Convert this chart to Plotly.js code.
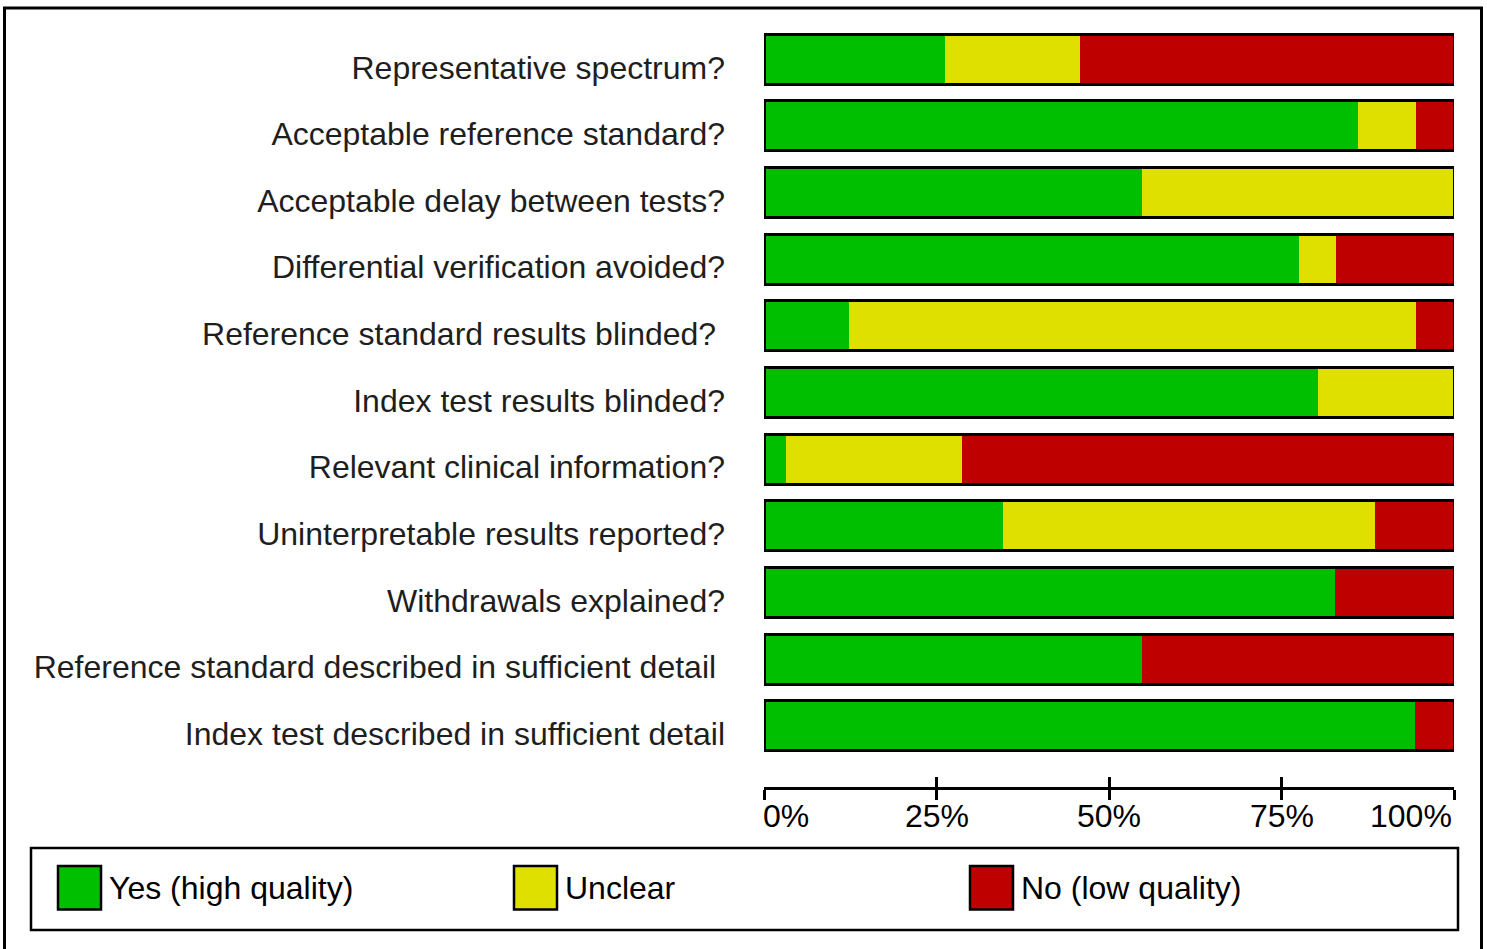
<!DOCTYPE html>
<html>
<head>
<meta charset="utf-8">
<script src="https://cdn.plot.ly/plotly-3.0.1.min.js"></script>
<style>
  html, body { margin: 0; padding: 0; background: #fff; }
  #chart { width: 1487px; height: 949px; }
</style>
</head>
<body>
<div id="chart"></div>
<script>
// ---- data (percent of studies) ----
const categories = [
  "Representative spectrum?",
  "Acceptable reference standard?",
  "Acceptable delay between tests?",
  "Differential verification avoided?",
  "Reference standard results blinded?\u00a0",
  "Index test results blinded?",
  "Relevant clinical information?",
  "Uninterpretable results reported?",
  "Withdrawals explained?",
  "Reference standard described in sufficient detail\u00a0",
  "Index test described in sufficient detail"
];
const yesPct     = [26.2, 86.1, 54.8, 77.5, 12.3, 80.3,  3.2, 34.6, 82.8, 54.8, 94.4];
const unclearPct = [19.6,  8.4, 45.2,  5.4, 82.2, 19.7, 25.5, 54.0,  0.0,  0.0,  0.0];
const noPct      = [54.2,  5.5,  0.0, 17.1,  5.5,  0.0, 71.3, 11.4, 17.2, 45.2,  5.6];
const seriesNames = ["Yes (high quality)", "Unclear", "No (low quality)"];
const seriesColors = ["#00bf00", "#e0e000", "#bf0000"];
const tickValues = [0, 25, 50, 75, 100];
const tickLabels = ["0%", "25%", "50%", "75%", "100%"];
const fullBar = categories.map(() => 100);

// ---- geometry helpers ----
const W = 1487, H = 949;
const M = { l: 764, r: 33, t: 26, b: 162 };
const PW = W - M.l - M.r, PH = H - M.t - M.b;
const px = p => (p - M.l) / PW;          // page x pixel -> paper x
const py = p => (H - M.b - p) / PH;      // page y pixel -> paper y

const FONT = "Liberation Sans, Arial, Helvetica, sans-serif";

const seriesValues = [yesPct, unclearPct, noPct];
const traces = seriesValues.map((vals, i) => ({
  type: "bar",
  orientation: "h",
  name: seriesNames[i],
  x: vals,
  y: categories,
  xaxis: "x",
  yaxis: "y",
  marker: { color: seriesColors[i], line: { width: 0 } },
  hoverinfo: "skip",
  showlegend: false
}));
// outline around each whole bar
traces.push({
  type: "bar",
  orientation: "h",
  x: fullBar,
  y: categories,
  xaxis: "x2",
  yaxis: "y",
  marker: { color: "rgba(0,0,0,0)", line: { width: 3, color: "#000" } },
  hoverinfo: "skip",
  showlegend: false
});

const annotations = [];
// x-axis tick labels
tickValues.forEach((v, i) => {
  const first = i === 0, last = i === tickValues.length - 1;
  annotations.push({
    xref: "x", yref: "paper", x: v, y: 0,
    text: tickLabels[i], showarrow: false,
    xanchor: first ? "left" : (last ? "right" : "center"),
    xshift: first ? -3 : 0,
    yanchor: "middle", yshift: -29,
    font: { family: FONT, size: 32, color: "#000" }
  });
});

// legend (custom, to match large swatches)
const legendSwatchX = [57, 513, 969];
const shapes = [];
shapes.push({ type: "rect", xref: "paper", yref: "paper",
  x0: px(4.5), x1: px(1481.5), y0: py(8), y1: py(980),
  line: { color: "#000", width: 3 }, fillcolor: "rgba(0,0,0,0)" });
shapes.push({ type: "rect", xref: "paper", yref: "paper",
  x0: px(31), x1: px(1458), y0: py(848), y1: py(930),
  line: { color: "#000", width: 2.5 }, fillcolor: "rgba(0,0,0,0)" });
seriesNames.forEach((n, i) => {
  const sx = legendSwatchX[i];
  shapes.push({ type: "rect", xref: "paper", yref: "paper",
    x0: px(sx + 1), x1: px(sx + 44), y0: py(866), y1: py(909.5),
    line: { color: "#000", width: 2.5 }, fillcolor: seriesColors[i] });
  annotations.push({ xref: "paper", yref: "paper",
    x: px(sx + 50), y: py(888), xanchor: "left", yanchor: "middle",
    text: n, showarrow: false,
    font: { family: FONT, size: 32, color: "#000" } });
});

const layout = {
  width: W, height: H,
  margin: M,
  paper_bgcolor: "#fff", plot_bgcolor: "#fff",
  barmode: "stack",
  bargap: 0.25,
  showlegend: false,
  xaxis: {
    range: [0, 100], fixedrange: true,
    showgrid: false, zeroline: false,
    showline: true, linecolor: "#000", linewidth: 3,
    ticks: "outside", ticklen: 10, tickwidth: 3, tickcolor: "#000",
    tickvals: tickValues, showticklabels: false
  },
  xaxis2: {
    range: [0, 100], overlaying: "x", anchor: "y", side: "bottom",
    showgrid: false, zeroline: false,
    showline: true, linecolor: "#000", linewidth: 3,
    ticks: "inside", ticklen: 10, tickwidth: 3, tickcolor: "#000",
    tickvals: tickValues, showticklabels: false
  },
  yaxis: {
    type: "category",
    range: [10.92, -0.5],
    showgrid: false, zeroline: false, showline: false,
    ticks: "", ticklabelstandoff: 38, ticklabelshift: -8,
    tickfont: { family: FONT, size: 32, color: "#1e1e1e" }
  },
  shapes: shapes,
  annotations: annotations
};

Plotly.newPlot("chart", traces, layout, { staticPlot: true, displayModeBar: false });
</script>
</body>
</html>
